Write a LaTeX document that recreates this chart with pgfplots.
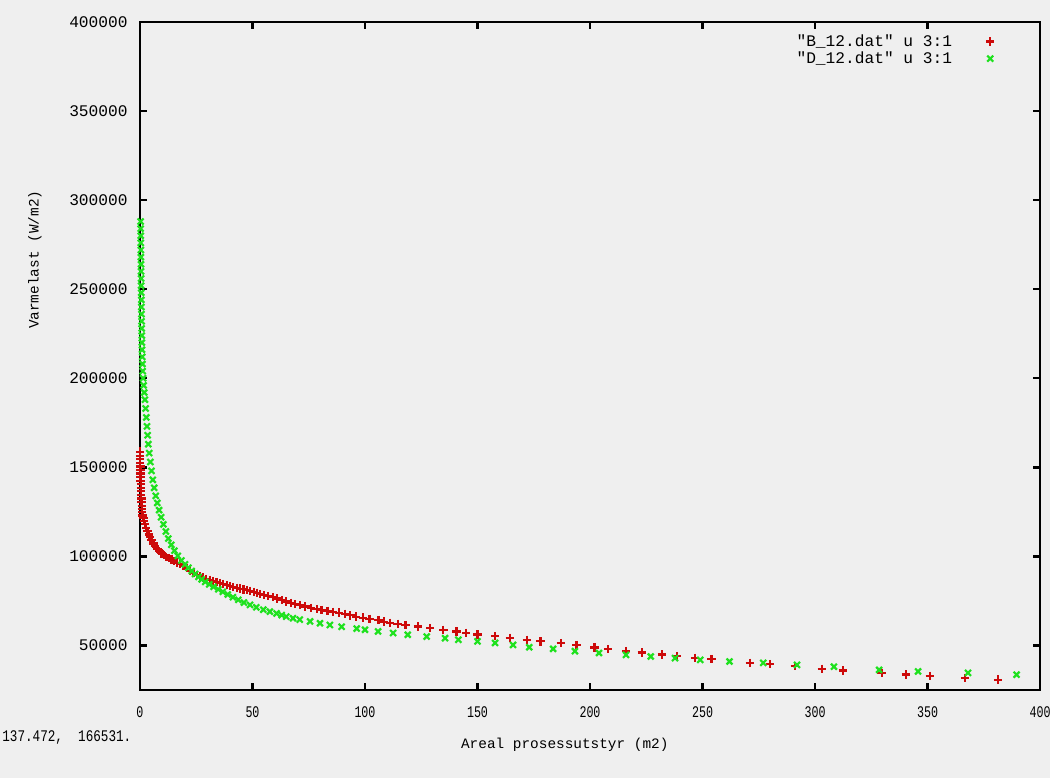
\documentclass[border=0pt]{standalone}
\usepackage{fontspec}
\setmainfont{Liberation Mono}
\usepackage{graphicx}
\usepackage{pgfplots}
\pgfplotsset{compat=1.18}
\definecolor{bg}{RGB}{239,239,239}
\definecolor{gpred}{RGB}{205,10,10}
\definecolor{gpgreen}{RGB}{30,225,30}

\pgfplotstableread{
x y
0.05 158800
0.08 156500
0.1 154500
0.12 152500
0.15 150500
0.18 148500
0.2 146500
0.25 144500
0.3 142500
0.35 140500
0.4 138500
0.45 136500
0.5 134500
0.6 132500
0.7 130500
0.8 128500
0.9 126500
1.0 124800
1.2 123000
1.5 121500
1.9 119800
2.3 118000
2.8 116000
3.3 114200
3.9 112300
4.5 110700
5.2 109000
6.0 107200
6.8 105700
7.7 104200
8.6 102900
9.6 101700
10.6 100700
11.7 99800
12.8 99000
14.0 98200
15.2 97400
16.5 96500
17.8 95600
19.3 94600
20.8 93400
22.3 92000
23.8 90700
25.2 89600
26.6 88800
28.0 88100
29.5 87400
31.0 86800
32.5 86200
34.0 85600
35.5 85000
37.0 84500
38.5 83900
40.0 83300
41.5 82800
43.0 82300
44.5 81900
46.0 81500
47.5 81100
49.0 80700
50.5 80100
52.0 79500
53.5 78900
55.0 78300
57.0 77700
59.0 77100
61.0 76400
63.0 75500
65.0 74700
67.0 74000
69.0 73300
71.0 72700
73.5 71900
76.0 71100
78.5 70400
80.7 69900
83.3 69400
85.9 68900
88.5 68400
91.0 67700
93.5 66900
96.0 66200
99.0 65600
102.0 65000
106.0 64200
108.5 63400
111.0 62700
114.5 62100
118.0 61500
123.6 60600
129.0 59800
134.8 58800
140.7 57800
145.0 57100
150.0 56200
157.8 55200
164.4 54300
171.9 53200
178.0 52300
187.0 51300
194.0 50300
202.0 48900
208.0 47900
216.0 46800
223.0 46000
232.0 44900
238.5 44000
246.7 43100
254.0 42300
271.0 40300
280.0 39500
291.0 38400
303.0 36900
312.5 36000
329.6 34700
340.4 33700
351.0 32900
366.7 31900
381.4 30800
}\datB

\pgfplotstableread{
x y
0.3 288000
0.3 284000
0.35 280000
0.35 276000
0.4 272000
0.4 268000
0.45 264000
0.45 260000
0.5 256000
0.5 252000
0.55 248000
0.6 244000
0.6 240000
0.65 236000
0.7 232000
0.75 228000
0.8 224000
0.85 220000
0.9 216000
1.0 212000
1.1 208000
1.2 204000
1.4 200000
1.6 196000
1.9 192000
2.2 188000
2.5 183000
2.8 178000
3.1 173000
3.4 168000
3.7 163000
4.1 158000
4.6 153000
5.1 148000
5.7 143000
6.3 138500
7.0 134000
7.7 130000
8.5 126000
9.4 122000
10.4 118000
11.5 114000
12.6 110000
13.9 106500
15.3 103200
16.8 100300
18.4 97700
20.0 95500
21.5 93600
23.0 91800
24.5 90100
26.0 88500
27.4 87100
29.0 85700
30.8 84300
32.7 82900
34.8 81500
36.8 80100
39.0 78600
41.3 77100
43.7 75600
46.2 74100
48.9 72800
51.7 71400
54.8 70100
57.7 69000
60.7 68000
63.0 67000
65.0 66200
68.0 65300
71.0 64500
75.6 63500
80.0 62500
84.4 61500
89.6 60500
96.3 59500
100.0 58800
105.8 57900
112.5 57000
119.0 56000
127.4 55000
135.6 54100
141.5 53200
150.0 52300
157.8 51400
165.8 50300
173.0 49000
183.6 48100
193.3 46800
204.0 45800
216.0 44700
227.0 43800
237.8 42900
249.0 41900
262.0 41000
277.0 40200
292.0 39100
308.4 38100
328.5 36300
345.8 35400
368.0 34600
389.6 33600
}\datD

\begin{document}%
\fontsize{8.1}{9.5}\selectfont%
\begin{tikzpicture}
\fill[bg] (-70pt,-44pt) rectangle (455pt,345pt);
\useasboundingbox (-70pt,-44pt) rectangle (455pt,345pt);
\begin{axis}[
  at={(0,0)}, anchor=south west,
  scale only axis, width=450pt, height=334pt,
  xmin=0, xmax=400, ymin=25000, ymax=400000,
  xtick={0,50,...,400}, ytick={50000,100000,...,400000},
  scaled y ticks=false, scaled x ticks=false,
  /pgf/number format/fixed,
  /pgf/number format/precision=0,
  /pgf/number format/1000 sep={},
  /pgf/number format/assume math mode=true,
  axis line style={line width=1.2pt, black},
  every tick/.style={black, line width=1.2pt},
  major tick length=3.5pt,
  tick align=inside,
  xticklabel={\scalebox{0.72}[1]{\pgfmathprintnumber[fixed,precision=0,assume math mode=true]{\tick}}},
  yticklabel={\pgfmathprintnumber[fixed,precision=0,1000 sep={},assume math mode=true]{\tick}},
  x tick label style={anchor=center, yshift=-11pt, inner sep=0pt},
  y tick label style={anchor=east, inner sep=0pt, xshift=-6pt},
  xlabel={Areal prosessutstyr (m2)},
  ylabel={Varmelast (W/m2)},
  every axis x label/.style={at={(axis description cs:0.472,-0.0823)}, anchor=center, font=\fontsize{7.2}{8}\selectfont},
  every axis y label/.style={at={(axis description cs:-0.1167,0.644)}, anchor=center, rotate=90, font=\fontsize{7.2}{8}\selectfont},
  legend plot pos=right,
  legend cell align=right,
  legend image code/.code={\path[draw=none,fill=none] (0cm,-2pt) rectangle (0.8cm,2pt); \draw[#1] plot coordinates {(0.6cm,0cm)};},
  legend style={draw=none, fill=none, at={(rel axis cs:1,1)}, anchor=north east,
    xshift=-19pt, yshift=-4pt, inner sep=0pt, row sep=-2.5pt,
    font=\fontsize{8.1}{9}\selectfont},
]
\addplot[only marks, mark=+, mark size=2.1pt, color=gpred, mark options={line width=1.1pt}] table[x=x,y=y] {\datB};
\addlegendentry{\textquotedbl B\_12.dat\textquotedbl\ u 3:1}
\addplot[only marks, mark=x, mark size=2.1pt, color=gpgreen, mark options={line width=1.1pt}] table[x=x,y=y] {\datD};
\addlegendentry{\textquotedbl D\_12.dat\textquotedbl\ u 3:1}
\end{axis}
\node[anchor=west, inner sep=0pt] at (-69pt,-24pt) {\scalebox{0.78}[1]{137.472,\ \ 166531.}};
\end{tikzpicture}%
\end{document}
